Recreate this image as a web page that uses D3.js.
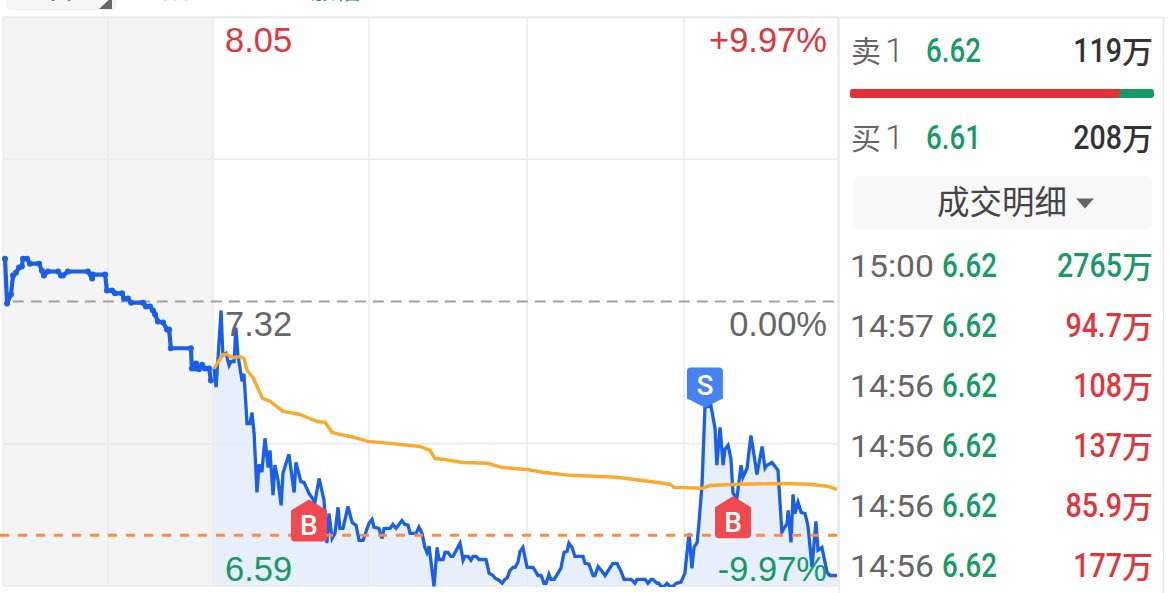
<!DOCTYPE html>
<html><head><meta charset="utf-8">
<style>html,body{margin:0;padding:0;background:#fff;overflow:hidden}svg{display:block}
text{font-family:Roboto,"Noto Sans CJK SC",sans-serif}</style>
<script src="https://cdn.jsdelivr.net/npm/d3@7"></script></head><body>
<svg id="c" width="1170" height="593"></svg>
<script>
const preTimes=[-80,-79.2,-77.7,-76.9,-75.8,-74.6,-73.5,-73.1,-71.5,-70.4,-66.9,-65.8,-65,-63.5,-59.6,-58.5,-57.7,-55.8,-48.1,-46.5,-46.2,-41.5,-40.8,-38.8,-37.7,-35,-34.2,-32.7,-31.5,-26.9,-25.8,-24.2,-23.1,-22.3,-21.2,-19.2,-17.7,-16.9,-16.2,-8.5,-8.1,-6.9,-6.5,-5.4,-4.2,-3.1,-1.5,-0.8];
const prePrices=[7.43,7.315,7.338,7.387,7.394,7.407,7.41,7.43,7.43,7.417,7.417,7.399,7.387,7.397,7.397,7.387,7.387,7.397,7.397,7.379,7.389,7.389,7.348,7.348,7.341,7.341,7.328,7.328,7.317,7.317,7.307,7.307,7.297,7.287,7.269,7.266,7.248,7.248,7.2,7.2,7.148,7.148,7.161,7.146,7.158,7.148,7.148,7.117];
const mainTimes=[0.4,1.2,3.1,3.8,5,6.2,6.9,8.1,8.8,9.6,11.2,11.9,13.1,14.2,15,15.8,16.9,17.7,18.8,20,21.2,21.9,23.1,23.8,25,26.2,26.9,29.2,31.2,31.9,33.8,35,36.9,39.2,40.8,42.7,43.8,44.6,45.8,46.9,48.1,48.8,50,51.9,53.5,55,56.2,57.7,60,61.2,61.9,63.8,65,65.8,68.1,69.2,70.4,72.7,73.8,75,75.8,78.1,79.2,80.4,81.5,82.3,83.1,85,86.2,86.9,88.5,89.2,90.4,91.5,92.3,95,96.2,96.9,98.1,99.2,100,101.2,102.3,105,106.2,107.7,108.5,110,111.2,112.3,113.1,114.2,115.4,116.2,117.3,118.1,119.2,120.8,123.1,125,126.2,127.3,128.1,129.2,130,131.2,133.8,135,136.2,136.9,138.1,139.2,142.3,143.1,144.6,146.2,146.9,148.1,149.6,150.8,153.8,155.4,156.9,158.1,160.8,162.3,163.1,166.2,167.3,168.5,169.2,170.8,171.5,172.3,173.5,174.6,175.8,176.9,178.1,180,181.5,183.1,184.2,185,186.2,186.9,188.1,189.2,191.5,193.1,193.8,195,196.2,196.9,198.1,199.2,200,201.5,203.1,203.8,205.4,206.9,207.7,209.2,211.2,212.3,213.1,215,217.3,218.8,220.8,221.2,222.3,223.1,223.8,225,226.2,227.7,228.8,230.4,231.9,232.7,234.2,236.2,237.3,240];
const mainPrices=[7.148,7.1,7.297,7.182,7.187,7.156,7.166,7.166,7.253,7.182,7.115,7.135,7.007,7.007,7.035,6.982,6.83,6.902,6.882,6.969,6.894,6.938,6.823,6.9,6.861,6.797,6.879,6.928,6.83,6.907,6.858,6.856,6.828,6.805,6.866,6.81,6.7,6.776,6.712,6.725,6.792,6.738,6.738,6.794,6.753,6.746,6.707,6.707,6.751,6.761,6.741,6.738,6.712,6.738,6.738,6.748,6.738,6.758,6.748,6.746,6.725,6.725,6.741,6.725,6.689,6.676,6.692,6.589,6.689,6.658,6.658,6.676,6.676,6.666,6.666,6.7,6.656,6.666,6.666,6.656,6.666,6.666,6.658,6.658,6.623,6.617,6.61,6.605,6.597,6.607,6.61,6.63,6.638,6.638,6.651,6.679,6.689,6.638,6.638,6.617,6.617,6.597,6.597,6.62,6.607,6.607,6.635,6.676,6.679,6.7,6.689,6.666,6.666,6.648,6.646,6.617,6.617,6.64,6.628,6.617,6.648,6.648,6.628,6.607,6.607,6.597,6.607,6.607,6.597,6.607,6.607,6.597,6.597,6.589,6.589,6.597,6.589,6.589,6.597,6.6,6.623,6.725,6.635,6.689,6.702,6.751,6.853,7.048,7.053,6.994,6.9,6.997,6.9,6.941,6.951,6.917,6.828,6.815,6.9,6.869,6.892,6.976,6.943,6.876,6.948,6.892,6.9,6.907,6.887,6.728,6.751,6.784,6.702,6.825,6.776,6.805,6.779,6.776,6.746,6.638,6.756,6.682,6.689,6.625,6.617,6.617];
const avgTimes=[0.4,1.9,3.8,5.4,7.7,10.4,11.9,13.1,15.4,18.5,19.2,21.9,26.9,33.5,40,43.1,45.8,48.8,54.6,59.6,68.1,79.6,83.5,85.4,88.5,96.2,105.4,111.5,120.8,126.9,137.3,155.4,168.1,175.8,177.3,188.5,191.2,201.5,218.5,229.6,236.2,238.5,240];
const avgPrices=[7.148,7.164,7.184,7.184,7.176,7.179,7.174,7.143,7.125,7.079,7.071,7.064,7.038,7.03,7.012,7.01,6.984,6.979,6.971,6.961,6.956,6.948,6.938,6.917,6.915,6.907,6.905,6.894,6.889,6.882,6.874,6.869,6.858,6.851,6.843,6.841,6.848,6.851,6.853,6.851,6.846,6.841,6.838];
const gridTimes=[-80.7,-40.4,0,60,120.8,181.2,240.4];
const gridPrices=[8.05,7.685,6.955,6.59];
const prevClose=7.32, costLine=6.72;
const tradeKinds=["B","S","B"], tradeTimes=[36.9,189.2,200], tradePrices=[6.812,7.048,6.82];
const priceLabels=["8.05","7.32","6.59"], pctLabels=["+9.97%","0.00%","-9.97%"];
const detailTimes=["15:00","14:57","14:56","14:56","14:56","14:56"];
const detailPrices=["6.62","6.62","6.62","6.62","6.62","6.62"];
const detailAmounts=["2765","94.7","108","137","85.9","177"];
const detailUp=[false,true,true,true,true,true];
const quoteLabels=["卖","买"], quotePrices=["6.62","6.61"], quoteAmounts=["119","208"];
const ratioShares=[0.885,0.115];
const unit="万";

const RED="#e2343a",GREEN="#169a68",GRID="#e9e9e9",GRAY="#666";
const svg=d3.select("#c");
const x=d3.scaleLinear().domain([-80,240]).range([5,837]);
const y=d3.scaleLinear().domain([6.59,8.05]).range([586,17]);

// header strip, cut by the top edge
svg.append("rect").attr("x",7).attr("y",-20).attr("width",109).attr("height",29.5).attr("rx",5).attr("fill","#f6f6f6").attr("stroke","#eeeeee");
svg.append("text").attr("x",19).attr("y",-1).attr("font-size",28).attr("fill","#555").text("五日");
svg.append("path").attr("d","M99 9L112 9L112 -3Z").attr("fill","#666");
svg.append("text").attr("x",151).attr("y",-1).attr("font-size",20).attr("fill","#f9a825").text("均价");
svg.append("text").attr("x",310).attr("y",-1).attr("font-size",25).attr("fill",GREEN).text("涨幅");

// plot background
svg.append("rect").attr("x",x(-80.7)).attr("y",y(8.05)).attr("width",x(0)-x(-80.7)).attr("height",y(6.59)-y(8.05)).attr("fill","#f4f4f4");
svg.append("defs").append("clipPath").attr("id","plot").append("rect").attr("x",0).attr("y",17).attr("width",838).attr("height",570);

const mainPts=mainTimes.map((t,i)=>[t,mainPrices[i]]);
const prePts=preTimes.map((t,i)=>[t,prePrices[i]]);
const avgPts=avgTimes.map((t,i)=>[t,avgPrices[i]]);
const plot=svg.append("g").attr("clip-path","url(#plot)");
plot.append("path").datum(mainPts).attr("fill","#e8effc")
  .attr("d",d3.area().x(d=>x(d[0])).y0(y(6.59)).y1(d=>y(d[1])));

// grid
svg.append("g").selectAll("line").data(gridTimes).join("line")
  .attr("x1",d=>x(d)).attr("x2",d=>x(d)).attr("y1",y(8.05)).attr("y2",y(6.59)).attr("stroke",GRID).attr("stroke-width",1.5).attr("stroke-opacity",.9);
svg.append("g").selectAll("line").data(gridPrices).join("line")
  .attr("x1",x(-80.7)).attr("x2",x(240.4)).attr("y1",d=>y(d)).attr("y2",d=>y(d)).attr("stroke",GRID).attr("stroke-width",1.5).attr("stroke-opacity",.9);

// reference lines
const plot2=svg.append("g").attr("clip-path","url(#plot)");
plot2.append("line").attr("x1",x(-77)).attr("x2",x(240)).attr("y1",y(prevClose)).attr("y2",y(prevClose))
  .attr("stroke","#a0a0a0").attr("stroke-width",1.8).attr("stroke-dasharray","11 7");

const line=d3.line().x(d=>x(d[0])).y(d=>y(d[1]));
plot2.append("path").datum(prePts).attr("d",line).attr("fill","none").attr("stroke","#1a5fe8").attr("stroke-width",4.2).attr("stroke-linejoin","round");
plot2.append("g").selectAll("circle").data(prePts).join("circle").attr("cx",d=>x(d[0])).attr("cy",d=>y(d[1])).attr("r",3).attr("fill","#1a5fe8");
plot2.append("path").datum(mainPts).attr("d",line).attr("fill","none").attr("stroke","#1a5fe8").attr("stroke-width",3.3).attr("stroke-linejoin","miter");
plot2.append("path").datum(avgPts).attr("d",line).attr("fill","none").attr("stroke","#fba92a").attr("stroke-width",3.4).attr("stroke-linejoin","round");
plot2.append("line").attr("x1",0).attr("x2",x(240)).attr("y1",y(costLine)).attr("y2",y(costLine))
  .attr("stroke","#ff8a42").attr("stroke-width",3).attr("stroke-dasharray","9 9");

// axis labels
const lab=svg.append("g").attr("font-size",34.5);
const priceCol=[RED,GRAY,GREEN], labY=[52,336,581];
lab.selectAll(".p").data(priceLabels).join("text").attr("class","p").attr("x",x(0)+12).attr("y",(d,i)=>labY[i]).attr("fill",(d,i)=>priceCol[i]).style("font-family","'Liberation Sans'").text(d=>d);
lab.selectAll(".q").data(pctLabels).join("text").attr("class","q").attr("x",827).attr("text-anchor","end").attr("y",(d,i)=>labY[i]).attr("fill",(d,i)=>priceCol[i]).style("font-family","'Liberation Sans'").text(d=>d);

// trade markers
const tg=svg.append("g").selectAll("g").data(tradeKinds).join("g").attr("transform",(d,i)=>`translate(${x(tradeTimes[i])},${y(tradePrices[i])})`);
tg.append("path").attr("d",d=>d==="B"?"M0 0L18 11V38Q18 42 14 42H-14Q-18 42-18 38V11Z":"M0 0L-18-9V-36Q-18-40-14-40H14Q18-40 18-36V-9Z")
  .attr("fill",d=>d==="B"?"#ee4a50":"#4583f5");
tg.append("text").attr("text-anchor","middle").attr("y",d=>d==="B"?36:-13).attr("font-size",28).attr("font-weight",500).attr("fill","#fff").text(d=>d);

// right panel frame
svg.append("path").attr("d","M840 17.5H1163.5V593M839 17V593").attr("fill","none").attr("stroke",GRID).attr("stroke-width",1.5);
svg.append("line").attr("x1",4).attr("x2",840).attr("y1",17.5).attr("y2",17.5).attr("stroke",GRID).attr("stroke-width",1.5);

// narrow tall digits plus the unit sign, ending at the right margin
function amount(sel,colour,digits,baseY){
  sel.append("text").attr("transform",(d,i)=>`translate(1122,${baseY(i)}) scale(.84,1)`).attr("text-anchor","end").attr("font-size",34).attr("font-weight",500).attr("fill",colour).text(digits);
  sel.append("text").attr("x",1122).attr("y",(d,i)=>baseY(i)+1).attr("font-size",31).attr("font-weight",500).attr("fill",colour).text(unit);
}
const quoteY=[62,149];
const q=svg.append("g").selectAll("g").data(quoteLabels).join("g");
q.append("text").attr("x",851).attr("y",(d,i)=>quoteY[i]).attr("font-size",30).attr("fill",GRAY).text(d=>d);
q.append("text").attr("x",885).attr("y",(d,i)=>quoteY[i]).attr("font-size",34).attr("font-weight",300).attr("fill",GRAY).text("1");
q.append("text").attr("transform",(d,i)=>`translate(926,${quoteY[i]}) scale(.84,1)`).attr("font-size",33).attr("font-weight",500).attr("fill",GREEN).text((d,i)=>quotePrices[i]);
amount(q,"#333",(d,i)=>quoteAmounts[i],i=>quoteY[i]);

const barX=d3.scaleLinear().domain([0,1]).range([850,1154]);
svg.append("defs").append("clipPath").attr("id","bar").append("rect").attr("x",850).attr("y",89).attr("width",304).attr("height",9).attr("rx",3);
const bg=svg.append("g").attr("clip-path","url(#bar)");
bg.append("rect").attr("x",barX(0)).attr("y",89).attr("width",barX(1)-barX(0)).attr("height",9).attr("fill",GREEN);
bg.append("path").attr("d",`M${barX(0)} 89H${barX(ratioShares[0])+2}L${barX(ratioShares[0])-1} 98H${barX(0)}Z`).attr("fill","#e03238");

svg.append("rect").attr("x",853).attr("y",176).attr("width",299).attr("height",53).attr("rx",6).attr("fill","#f8f8f8");
svg.append("text").attr("x",937).attr("y",214).attr("font-size",32.5).attr("fill","#444").text("成交明细");
svg.append("path").attr("d","M1076 198.5H1094L1085 208.5Z").attr("fill","#666");

const rowY=i=>277+i*60;
const r=svg.append("g").selectAll("g").data(detailTimes).join("g");
r.append("text").attr("x",850).attr("y",(d,i)=>rowY(i)).attr("font-size",32).attr("fill",GRAY).attr("textLength",84).attr("lengthAdjust","spacingAndGlyphs").text(d=>d);
r.append("text").attr("transform",(d,i)=>`translate(942,${rowY(i)}) scale(.84,1)`).attr("font-size",33).attr("font-weight",500).attr("fill",GREEN).text((d,i)=>detailPrices[i]);
detailAmounts.forEach((a,i)=>{
  const g=svg.append("g").datum(a);
  amount(g,detailUp[i]?RED:GREEN,a,()=>rowY(i));
});
</script></body></html>
